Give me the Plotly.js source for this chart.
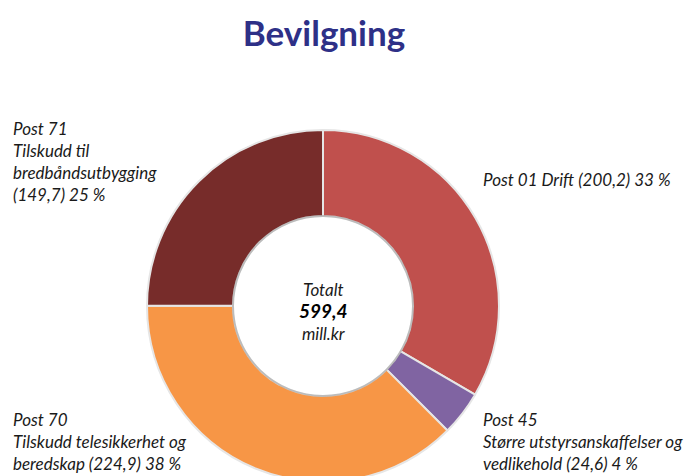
<!DOCTYPE html>
<html>
<head>
<meta charset="utf-8">
<script src="https://cdn.plot.ly/plotly-3.0.1.min.js"></script>
<style>html,body{margin:0;padding:0;overflow:hidden;background:#fff;}#chart{width:692px;height:500px;}</style>
</head>
<body>
<div id="chart"></div>
<script>
const categories = ["Post 01", "Post 45", "Post 70", "Post 71"];
const values = [200.2, 24.6, 224.9, 149.7];
const colors = ["#C0504D", "#8064A2", "#F79646", "#772C2A"];
const labelTexts = [
  "Post 01 Drift (200,2) 33 %",
  "Post 45<br>Større utstyrsanskaffelser og<br>vedlikehold (24,6) 4 %",
  "Post 70<br>Tilskudd telesikkerhet og<br>beredskap (224,9) 38 %",
  "Post 71<br>Tilskudd til<br>bredbåndsutbygging<br>(149,7) 25 %"
];
const totalLabel = "Totalt";
const totalValue = "599,4";
const totalUnit = "mill.kr";
const titleText = "Bevilgning";

const W = 692, H = 500;
const px = x => x / W;
const py = y => (H - y) / H;

const cx = 323, cy = 306, R = 176, r = 90;
const labelFont = {family: "Lato, 'Open Sans', sans-serif", size: 17, color: "#1a1a1a", style: "italic"};
// label anchors (pixels): [x, y]
const labelPos = [
  [481, 179],
  [481, 441],
  [11, 441],
  [11, 162]
];

const annotations = labelTexts.map((t, i) => ({
  text: t, xref: "paper", yref: "paper",
  x: px(labelPos[i][0]), y: py(labelPos[i][1]),
  xanchor: "left", yanchor: "middle",
  align: "left", showarrow: false, font: labelFont
}));
annotations.push({
  text: totalLabel + "<br><b><span style='font-size:19px;color:#000'>" + totalValue + "</span></b><br>" + totalUnit,
  xref: "paper", yref: "paper", x: px(cx), y: py(311), showarrow: false,
  font: labelFont, xanchor: "center", yanchor: "middle", align: "center"
});

const data = [{
  type: "pie",
  labels: categories,
  values: values,
  sort: false,
  direction: "clockwise",
  rotation: 0,
  hole: r / R,
  textinfo: "none",
  hoverinfo: "none",
  showlegend: false,
  marker: {colors: colors, line: {color: "#e6e6e6", width: 2}},
  domain: {x: [px(cx - R), px(cx + R)], y: [py(cy + R), py(cy - R)]}
}];

const layout = {
  width: W, height: H,
  margin: {l: 0, r: 0, t: 0, b: 0},
  paper_bgcolor: "#fff",
  title: {text: "<b>" + titleText + "</b>", font: {family: "Lato, 'Open Sans', sans-serif", size: 35, color: "#2E3087"},
          x: px(324), xanchor: "center", y: py(34), yanchor: "middle", xref: "paper", yref: "paper"},
  annotations: annotations,
  shapes: [{type: "circle", xref: "paper", yref: "paper",
            x0: px(cx - r), x1: px(cx + r), y0: py(cy + r), y1: py(cy - r),
            line: {color: "rgba(0,0,0,0.18)", width: 2}, layer: "above"}]
};

Plotly.newPlot("chart", data, layout, {staticPlot: true, displayModeBar: false});
</script>
</body>
</html>
